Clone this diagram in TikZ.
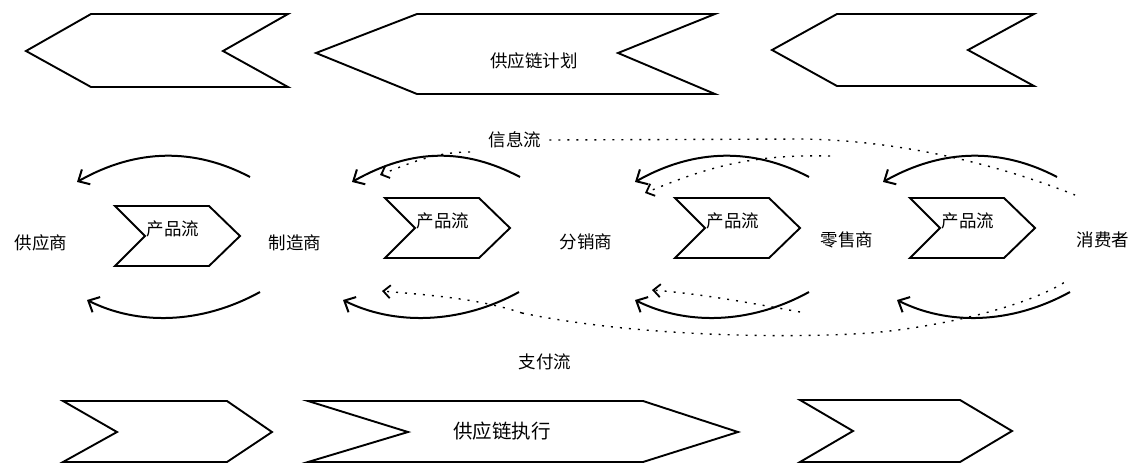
\documentclass[tikz,border=0pt]{standalone}
\usepackage{fontspec}
\newfontfamily\cjk{Noto Sans CJK SC}
\usepackage{tikz}
\usetikzlibrary{arrows.meta}

\begin{document}
\begin{tikzpicture}[x=1pt,y=-1pt,
    outline/.style={draw,line width=1.9pt,line join=miter},
    flowarc/.style={line width=2pt,-{Straight Barb[length=9pt,width=17pt,line width=2pt]}},
    dotarc/.style={line width=1.4pt,dash pattern=on 2pt off 7pt},
    dotarrow/.style={dotarc,-{Straight Barb[length=7pt,width=13pt,line width=1.8pt]}},
    lab/.style={font=\cjk\fontsize{17.5}{20}\selectfont,inner sep=0pt},
    biglab/.style={font=\cjk\fontsize{19.5}{22}\selectfont,inner sep=0pt}]

    \useasboundingbox (0,0) rectangle (1140,466);

    % --- plan row (pointing left)
    \draw[outline] (26,51) -- (91,14) -- (288,14) -- (223,51) -- (288,87) -- (91,87) -- cycle;
    \draw[outline] (316,53) -- (417,14) -- (715,14) -- (618,53) -- (715,94) -- (417,94) -- cycle;
    \draw[outline] (772,50) -- (837,14) -- (1034,14) -- (968,50) -- (1034,86) -- (837,86) -- cycle;
    \node[lab] (plan) at (534,61) {供应链计划};

    % --- execution row (pointing right)
    \draw[outline] (63,401) -- (227,401) -- (272,432) -- (227,462) -- (63,462) -- (117,432) -- cycle;
    \draw[outline] (308,401) -- (643,401) -- (738,432) -- (643,462) -- (308,462) -- (408,432) -- cycle;
    \draw[outline] (800,400) -- (960,400) -- (1012,431) -- (960,462) -- (800,462) -- (853,431) -- cycle;
    \node[biglab] (exec) at (502,431) {供应链执行};

    % --- members of the chain
    \foreach \n/\x/\y/\t in {sup/41/243/供应商,man/295/243/制造商,dis/586/242/分销商,ret/847/240/零售商,con/1103/240/消费者}
      \node[lab] (\n) at (\x,\y) {\t};

    % --- product flow chevrons
    \foreach \i/\x/\y in {1/115/236,2/385/228,3/675/228,4/910/228}{
      \draw[outline] (\x,\y-30) -- ++(94,0) -- ++(31,30) -- ++(-31,30) -- ++(-94,0) -- ++(30,-30) -- cycle;
      \node[lab] (pf\i) at (\x+58,\y-7) {产品流};
    }

    % --- solid arcs above and below each chevron
    \foreach \i/\a/\b/\c/\d in {1/250/77/260/87,2/520/352/519/343,3/809/635/809/635,4/1057/883/1070/897}{
      \coordinate (ua\i) at (\a,177);
      \coordinate (ub\i) at (\b,182);
      \coordinate (la\i) at (\c,292);
      \coordinate (lb\i) at (\d,300);
      \draw[flowarc] (ua\i) .. controls +(-55,-29) and +(60,-34) .. (ub\i);
      \draw[flowarc] (la\i) .. controls +(-60,33) and +(50,25) .. (lb\i);
    }

    % --- information flow (dotted)
    \node[lab] (info) at (515,140) {信息流};
    \coordinate (itop) at (800,139);
    \coordinate (iend) at (1075,195);
    \draw[dotarc] ([xshift=8pt]info.east) -- (itop) .. controls +(100,1) and +(-75,-30) .. (iend);
    \coordinate (is2) at (470,152);
    \coordinate (ie2) at (380,175);
    \coordinate (is3) at (830,156);
    \coordinate (ie3) at (645,193);
    \draw[dotarrow] (is2) .. controls +(-35,0) and +(30,-12) .. (ie2);
    \draw[dotarrow] (is3) .. controls +(-80,-2) and +(60,-25) .. (ie3);

    % --- payment flow (dotted)
    \node[lab] (pay) at (545,362) {支付流};
    \coordinate (ps2) at (522,313);
    \coordinate (pe2) at (382,291);
    \coordinate (ps3) at (800,312);
    \coordinate (pe3) at (652,290);
    \coordinate (pmid) at (870,333);
    \coordinate (pend) at (1065,282);
    \draw[dotarrow] (ps2) .. controls +(-45,-15) and +(45,4) .. (pe2);
    \draw[dotarrow] (ps3) .. controls +(-55,-10) and +(50,4) .. (pe3);
    \draw[dotarc] (ps2) .. controls +(120,25) and +(-70,5) .. (pmid) .. controls +(70,-6) and +(-40,25) .. (pend);
\end{tikzpicture}
\end{document}
